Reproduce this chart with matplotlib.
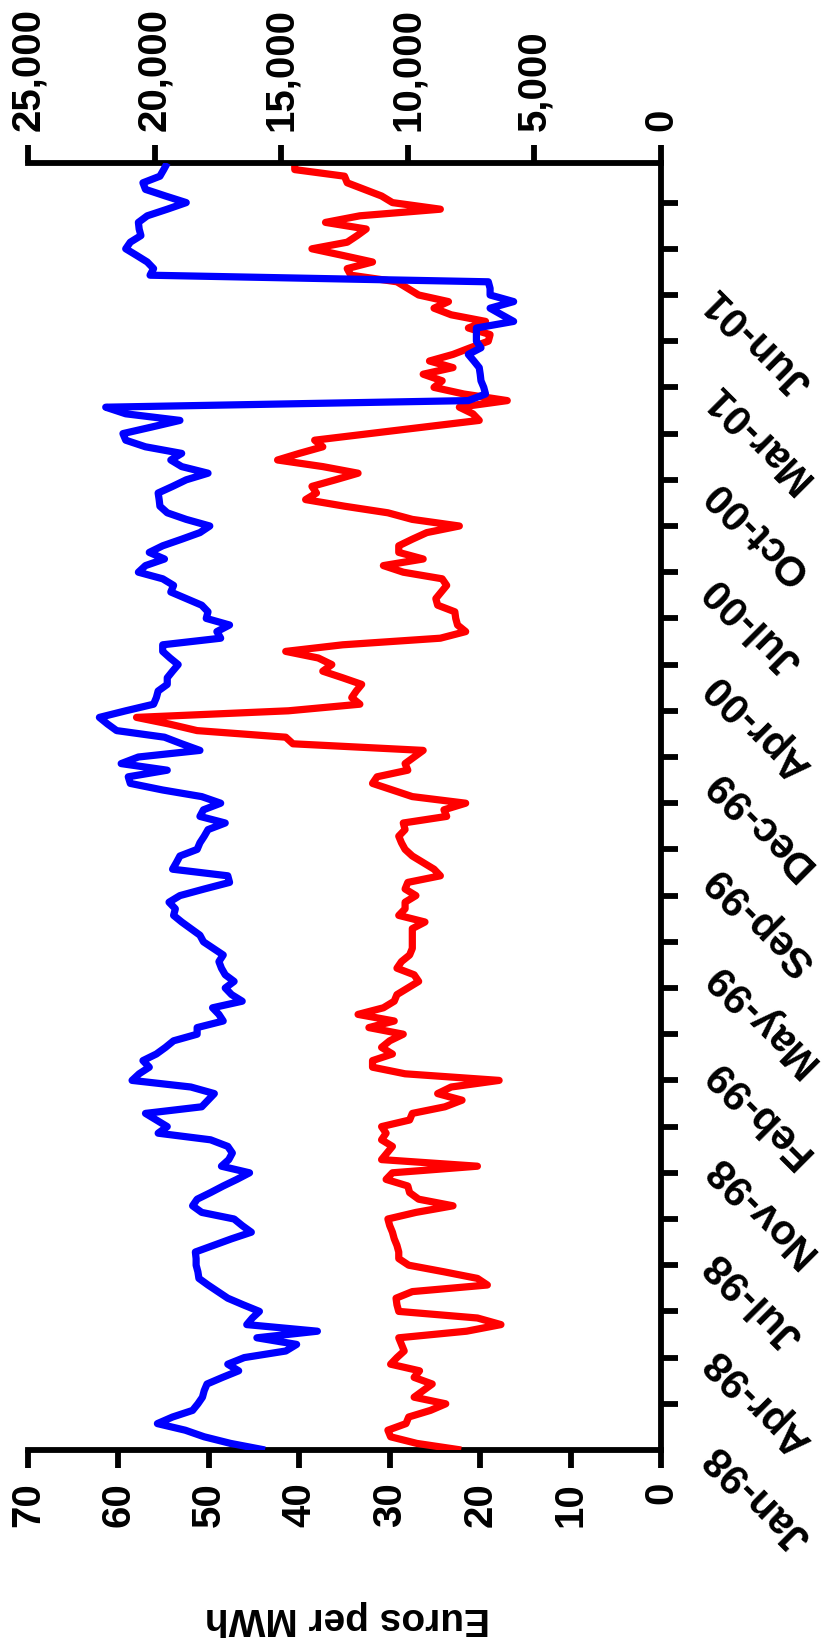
import matplotlib
matplotlib.use("Agg")
import matplotlib.pyplot as plt
import numpy as np
from matplotlib.ticker import FuncFormatter, MultipleLocator

plt.rcParams['font.family'] = ['Liberation Sans', 'DejaVu Sans']
plt.rcParams['font.weight'] = 'bold'

date_labels = ['Jan-98', 'Apr-98', 'Jul-98', 'Nov-98', 'Feb-99', 'May-99', 'Sep-99',
               'Dec-99', 'Apr-00', 'Jul-00', 'Oct-00', 'Mar-01', 'Jun-01']

# red series, Euros per MWh (primary axis)
price = [22.1, 27.0, 29.9, 30.2, 28.2, 27.9, 25.5, 23.8, 27.3, 26.3,
         25.3, 27.3, 26.7, 29.9, 29.2, 28.4, 28.7, 29.0, 21.5, 17.7,
         20.3, 29.0, 29.2, 29.3, 27.5, 19.2, 20.3, 24.0, 27.9, 29.0,
         29.0, 29.2, 29.5, 29.7, 30.0, 30.2, 27.1, 23.0, 26.8, 27.8,
         28.0, 30.4, 29.7, 20.3, 30.9, 30.3, 29.7, 30.9, 30.4, 30.9,
         27.8, 27.5, 23.9, 22.0, 24.7, 23.2, 17.9, 28.3, 31.9, 31.9,
         29.7, 30.9, 30.0, 28.5, 32.3, 29.5, 33.5, 30.7, 29.5, 29.2,
         28.0, 26.8, 27.3, 29.2, 28.7, 27.8, 27.5, 27.5, 27.5, 27.5,
         26.1, 29.0, 28.3, 28.3, 27.1, 28.3, 28.0, 24.4, 25.1, 26.3,
         27.5, 28.3, 28.7, 29.0, 28.3, 28.5, 23.7, 24.0, 21.6, 27.5,
         29.7, 31.9, 31.4, 28.0, 28.3, 27.3, 26.3, 40.7, 41.5, 51.3,
         54.4, 58.0, 41.2, 33.3, 34.2, 33.7, 33.1, 35.2, 37.4, 36.4,
         37.9, 41.5, 35.2, 24.4, 21.6, 22.5, 22.7, 22.8, 24.7, 24.9,
         24.3, 23.7, 24.2, 28.5, 30.7, 26.3, 29.0, 29.0, 27.5, 25.9,
         22.3, 27.5, 30.2, 35.0, 39.3, 38.1, 38.6, 36.0, 33.5, 37.4,
         42.4, 40.0, 37.4, 38.3, 32.2, 26.2, 20.1, 20.8, 22.3, 17.0,
         21.8, 25.1, 24.2, 26.3, 23.0, 25.6, 23.0, 21.1, 19.1, 18.9,
         21.3, 19.4, 23.2, 25.1, 23.5, 26.8, 28.0, 29.2, 34.3, 34.7,
         31.9, 35.2, 38.6, 34.7, 33.6, 32.6, 37.1, 33.3, 24.4, 29.7,
         30.9, 32.8, 34.7, 35.0, 40.5, 40.5]

# blue series (secondary axis, 0-25,000)
volume = [15640, 17000, 18040, 18790, 19890, 19290, 18500, 18290, 18110, 18040,
          17930, 17320, 16680, 17110, 16460, 14820, 14390, 15960, 13570, 16360,
          16140, 15860, 16500, 17110, 17500, 17890, 18250, 18290, 18360, 18360,
          18390, 17680, 16960, 16180, 16540, 16860, 18140, 18500, 18320, 17790,
          17290, 16750, 16250, 17360, 17070, 16930, 17110, 17790, 19860, 19500,
          19930, 20360, 18140, 17890, 17640, 18570, 20890, 20610, 20210, 20460,
          19930, 19570, 19250, 18320, 18320, 17290, 17460, 17710, 16540, 16960,
          17210, 16860, 17210, 17360, 17460, 17290, 17680, 18070, 18210, 18570,
          18930, 19250, 19180, 19430, 19000, 18040, 17040, 17110, 19290, 19140,
          19000, 18320, 18210, 18040, 17890, 17210, 18210, 18070, 17390, 18140,
          19680, 20960, 21040, 19500, 21320, 20640, 18210, 18930, 19610, 21500,
          21860, 22180, 21140, 20040, 19930, 19860, 19500, 19500, 19290, 19070,
          19390, 19680, 19680, 17390, 17540, 17040, 17960, 17890, 18140, 18750,
          19360, 19250, 19680, 20640, 20360, 19610, 20210, 19680, 18930, 18210,
          17820, 18750, 19500, 19790, 19820, 19860, 19290, 18750, 17890, 18930,
          19360, 18930, 20360, 21140, 21250, 20110, 19000, 21140, 21930, 7610,
          6930, 7000, 7110, 7140, 7180, 7390, 7610, 7110, 7290, 7290,
          7290, 5820, 6290, 6750, 5820, 6750, 6750, 6820, 20180, 20040,
          20290, 20710, 21140, 20960, 20540, 20610, 20640, 20290, 19500, 18750,
          19570, 20360, 20460, 19790, 19640, 19500]

weeks = np.arange(len(price))
label_step = 14.6   # weeks between date labels

fig = plt.figure(figsize=(8.22, 16.5), dpi=100)
ax = fig.add_axes([28 / 822, 200 / 1650, 633 / 822, 1287 / 1650])
ax.plot(price, weeks, color='#ff0000', lw=5.2, solid_joinstyle='round',
        solid_capstyle='butt', zorder=3)
ax.set_xlim(70, 0)
ax.set_ylim(0, len(price) - 1)

ax2 = ax.twiny()
ax2.plot(volume, weeks, color='#0000ff', lw=5.2, solid_joinstyle='round',
         solid_capstyle='butt', zorder=3)
ax2.set_xlim(25000, 0)
ax2.set_ylim(0, len(price) - 1)

for a in (ax, ax2):
    for s in a.spines.values():
        s.set_visible(False)
    a.patch.set_visible(False)
for side in ('bottom', 'right'):
    ax.spines[side].set_visible(True)
    ax.spines[side].set_linewidth(4.2)
ax2.spines['top'].set_visible(True)
ax2.spines['top'].set_linewidth(4.2)

# primary (bottom) axis
ax.set_xticks(np.arange(0, 71, 10))
ax.tick_params(axis='x', direction='out', length=13, width=4.2, pad=10,
               labelsize=29, labelrotation=90)

# category axis on the right: tick marks every 7 weeks, labels placed separately
ax.yaxis.tick_right()
ax.yaxis.set_minor_locator(MultipleLocator(7))
ax.set_yticks(np.arange(len(date_labels)) * label_step, date_labels)
ax.tick_params(axis='y', which='minor', direction='out', length=12, width=4.2)
ax.tick_params(axis='y', which='major', length=0, labelsize=30, pad=36)
for lab in ax.get_yticklabels():
    lab.set_rotation(135)
    lab.set_rotation_mode('anchor')
    lab.set_ha('right')
    lab.set_va('center')

# secondary (top) axis
ax2.set_xticks(np.arange(0, 25001, 5000))
ax2.xaxis.set_major_formatter(FuncFormatter(lambda v, p: f'{int(v):,}'))
ax2.tick_params(axis='x', direction='out', length=13, width=4.2, pad=10,
                labelsize=29, labelrotation=90)
ax2.tick_params(axis='y', left=False, right=False, labelleft=False, labelright=False)

fig.text(347 / 822, 1 - 1618 / 1650, 'Euros per MWh', rotation=180,
         ha='center', va='center', fontsize=28, fontweight='bold')

fig.savefig('out.png', dpi=100)
